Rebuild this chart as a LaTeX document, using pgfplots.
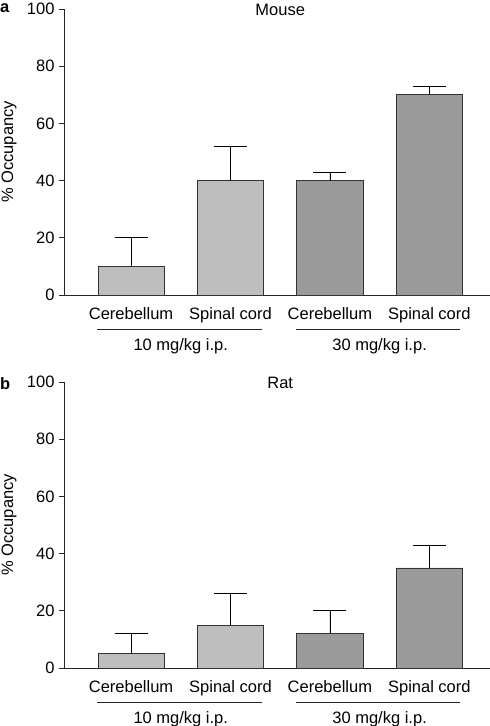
\documentclass[border=0pt]{standalone}
\usepackage{pgfplots}
\pgfplotsset{compat=1.18}
\usepackage{fontspec}
\setmainfont{Liberation Sans}
\definecolor{lightbar}{HTML}{BEBEBE}
\definecolor{darkbar}{HTML}{9B9B9B}
\pgfplotstableread{
x y e
0 10 10
1 40 12
}\mouselow
\pgfplotstableread{
x y e
2 40 3
3 70 3
}\mousehigh
\pgfplotstableread{
x y e
0 5 7
1 15 11
}\ratlow
\pgfplotstableread{
x y e
2 12 8
3 35 8
}\rathigh
\newcommand{\fs}{\fontsize{16.5}{19}\selectfont}
\pgfplotsset{
  panel/.style={
    scale only axis,
    width=426pt, height=286pt,
    xmin=-0.674, xmax=3.61,
    ymin=0, ymax=100,
    axis x line=bottom, axis y line=left,
    axis line style={-, line width=0.8pt, black!85},
    ytick={0,20,40,60,80,100},
    xtick={0,1,2,3},
    xticklabels={Cerebellum,Spinal cord,Cerebellum,Spinal cord},
    major tick length=5pt,
    tick style={line width=0.8pt, black!85},
    xtick style={draw=none},
    tick align=outside,
    every tick label/.style={font=\fs},
    /pgf/number format/assume math mode=true,
    xticklabel style={yshift=-4pt},
    yticklabel style={xshift=-1pt},
    clip=false,
    ybar, bar width=0.664, bar shift=0pt,
    every axis plot/.append style={draw=black!80, line width=0.8pt},
    error bars/y dir=plus, error bars/y explicit,
    error bars/error bar style={line width=0.8pt, black},
    error bars/error mark options={rotate=90, mark size=16.5pt, line width=0.8pt, black},
  }
}
\newcommand{\groupmarks}[1]{%
  \draw[line width=0.8pt, black!85] (axis cs:-0.34,-11.9) -- (axis cs:1.32,-11.9);
  \draw[line width=0.8pt, black!85] (axis cs:1.66,-11.9) -- (axis cs:3.31,-11.9);
  \node[font=\fs] at (axis cs:0.5,-17.8) {10 mg/kg i.p.};
  \node[font=\fs] at (axis cs:2.5,-17.8) {30 mg/kg i.p.};
  \node[font=\fs, anchor=center] at (axis cs:1.5,99.6) {#1};
}
\begin{document}
\begin{tikzpicture}
\useasboundingbox (0,0) rectangle (490pt,-726pt);
\begin{axis}[panel, at={(64pt,-295pt)}, anchor=south west]
\addplot[fill=lightbar] table[x=x, y=y, y error=e] {\mouselow};
\addplot[fill=darkbar] table[x=x, y=y, y error=e] {\mousehigh};
\groupmarks{Mouse}
\end{axis}
\begin{axis}[panel, at={(64pt,-668pt)}, anchor=south west]
\addplot[fill=lightbar] table[x=x, y=y, y error=e] {\ratlow};
\addplot[fill=darkbar] table[x=x, y=y, y error=e] {\rathigh};
\groupmarks{Rat}
\end{axis}
\node[font=\fs, rotate=90] at (9pt,-152pt) {\% Occupancy};
\node[font=\fs, rotate=90] at (9pt,-525pt) {\% Occupancy};
\node[font=\fs\bfseries, anchor=west, inner sep=0pt] at (0pt,-8pt) {a};
\node[font=\fs\bfseries, anchor=west, inner sep=0pt] at (0pt,-384pt) {b};
\end{tikzpicture}
\end{document}
